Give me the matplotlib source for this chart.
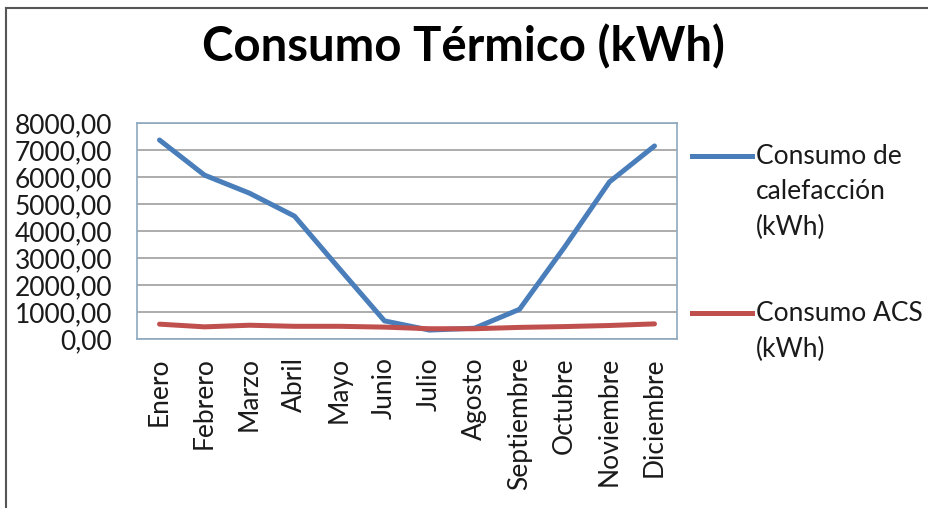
import matplotlib
matplotlib.use("Agg")
import matplotlib.pyplot as plt
from matplotlib.lines import Line2D
from matplotlib.ticker import FuncFormatter

plt.rcParams['font.family'] = ['Lato', 'DejaVu Sans']

meses = ['Enero', 'Febrero', 'Marzo', 'Abril', 'Mayo', 'Junio', 'Julio',
         'Agosto', 'Septiembre', 'Octubre', 'Noviembre', 'Diciembre']
calefaccion = [7370, 6070, 5400, 4550, 2600, 670, 330, 400, 1100, 3400, 5820, 7150]
acs = [550, 450, 510, 470, 470, 440, 380, 380, 430, 460, 500, 560]
series = ['Consumo de\ncalefacción\n(kWh)', 'Consumo ACS\n(kWh)']

azul = '#4A7EBB'
rojo = '#C0504D'
texto = '#1A1A1A'

W, H = 929, 508
fig = plt.figure(figsize=(W / 100, H / 100), dpi=100)
ax = fig.add_axes([137 / W, 1 - 339 / H, 540 / W, 216 / H])

x = range(len(meses))
ax.plot(x, calefaccion, color=azul, lw=3.6, solid_capstyle='round')
ax.plot(x, acs, color=rojo, lw=3.6, solid_capstyle='round')

ax.set_xlim(-0.5, len(meses) - 0.5)
ax.set_ylim(0, 8000)
ax.set_yticks(range(0, 8001, 1000))
ax.yaxis.set_major_formatter(FuncFormatter(lambda v, p: f'{v:.2f}'.replace('.', ',')))
ax.set_xticks(list(x))
ax.set_xticklabels(meses, rotation=90, va='top', ha='center')
ax.tick_params(axis='y', length=0, pad=18, labelsize=19, colors=texto)
ax.tick_params(axis='x', length=0, pad=13, labelsize=19, colors=texto)
ax.grid(axis='y', color='#A6A6A6', lw=1.3)
ax.set_axisbelow(True)
for s in ax.spines.values():
    s.set_color('#8EA9BF')
    s.set_linewidth(1.2)

fig.text(463 / W, 1 - 47 / H, 'Consumo Térmico (kWh)', ha='center', va='center',
         fontsize=34, fontweight='bold', color='black')

# leyenda: muestra de línea junto a la primera línea de cada etiqueta
for nombre, color, y in zip(series, [azul, rojo], [156, 313]):
    yf = 1 - y / H
    fig.add_artist(Line2D([692 / W, 752 / W], [yf, yf], transform=fig.transFigure,
                          color=color, lw=3.6))
    fig.text(756 / W, yf + 12 / H, nombre, ha='left', va='top', fontsize=19,
             color=texto, linespacing=1.52)

# marco exterior
fig.add_artist(Line2D([6 / W, 6 / W], [0, 1 - 8 / H], transform=fig.transFigure,
                      color='#555555', lw=1.5))
fig.add_artist(Line2D([6 / W, 1], [1 - 8 / H, 1 - 8 / H], transform=fig.transFigure,
                      color='#555555', lw=1.5))

fig.savefig('out.png', dpi=100)
